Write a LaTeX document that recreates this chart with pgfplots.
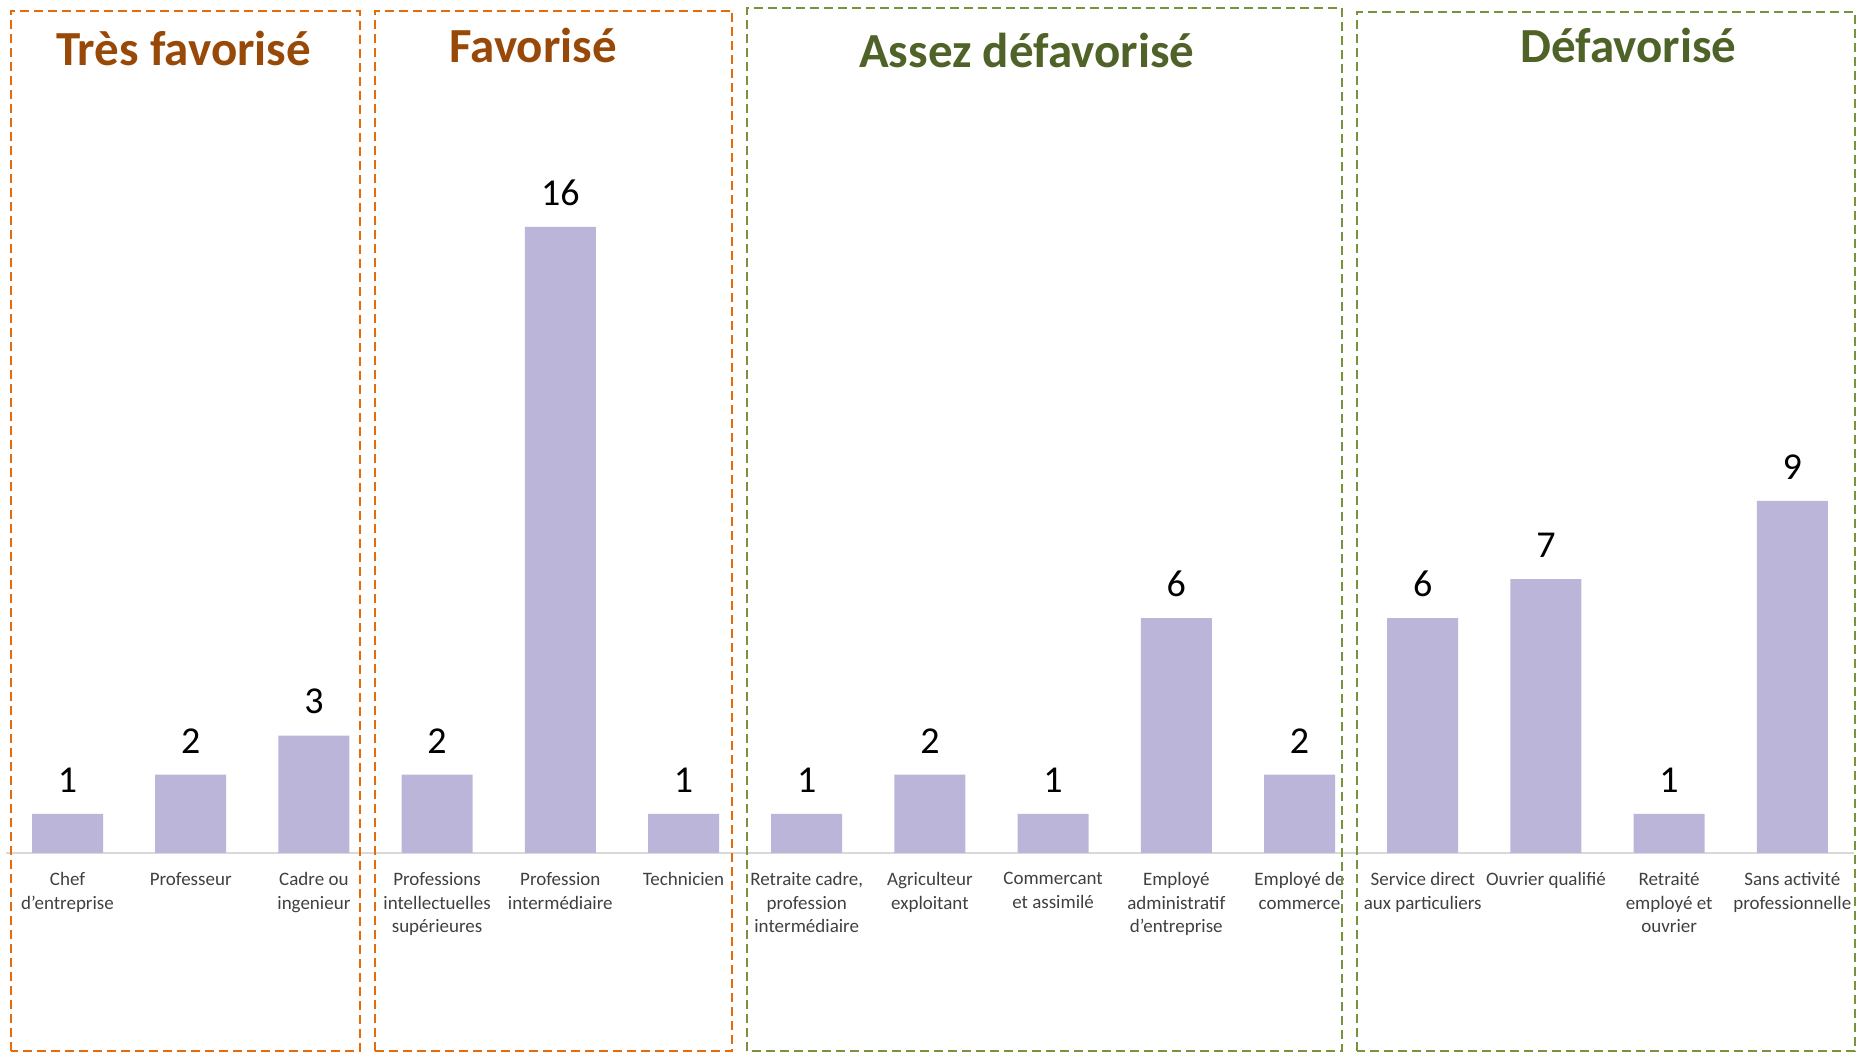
\documentclass[border=0pt]{standalone}
\usepackage{pgfplots}
\pgfplotsset{compat=1.18}
\usepackage{fontspec}
\setmainfont{Carlito}
\definecolor{barc}{RGB}{187,181,217}
\definecolor{orbox}{HTML}{E46C0A}
\definecolor{grbox}{HTML}{77933C}
\definecolor{ortxt}{HTML}{984807}
\definecolor{grtxt}{HTML}{4F6228}
\definecolor{lbl}{HTML}{404040}
\begin{document}
\begin{tikzpicture}
\useasboundingbox (0,0) rectangle (928.5pt,526.5pt);
\begin{axis}[
  at={(2.95pt,100pt)}, anchor=south west,
  scale only axis, width=924pt, height=426.5pt,
  xmin=-0.5, xmax=14.5, ymin=0, ymax=21.8,
  hide y axis,
  axis x line*=bottom,
  x axis line style={-, draw=black!15, line width=1pt},
  xtick={0,...,14},
  major tick length=0pt,
  xticklabels={{Chef\\d’entreprise},{Professeur},{Cadre ou\\ingenieur},{Professions\\intellectuelles\\supérieures},{Profession\\intermédiaire},{Technicien},{Retraite cadre,\\profession\\intermédiaire},{Agriculteur\\exploitant},{Commercant\\et assimilé},{Employé\\administratif\\d’entreprise},{Employé de\\commerce},{Service direct\\aux particuliers},{Ouvrier qualifié},{Retraité\\employé et\\ouvrier},{Sans activité\\professionnelle}},
  xticklabel style={align=center, font=\fontsize{9.5}{11.8}\selectfont, text=lbl, inner sep=0pt, yshift=-9.5pt},
  ybar, bar width=35.5pt,
  /pgf/number format/assume math mode=true,
  nodes near coords,
  every node near coord/.append style={anchor=center, yshift=17pt, font=\fontsize{19}{21}\selectfont, text=black},
]
\addplot[fill=barc, draw=none] coordinates {
(0,1) (1,2) (2,3) (3,2) (4,16) (5,1) (6,1) (7,2) (8,1) (9,6) (10,2) (11,6) (12,7) (13,1) (14,9)};
\end{axis}
\begin{scope}[line width=1pt, dash pattern=on 4.5pt off 2.5pt]
\draw[orbox] (5.35pt,1pt) rectangle (180pt,521.2pt);
\draw[orbox] (187.5pt,1pt) rectangle (366pt,521.2pt);
\draw[grbox] (373.5pt,1pt) rectangle (671pt,522.4pt);
\draw[grbox] (678.5pt,1pt) rectangle (927.5pt,520.6pt);
\end{scope}
\begin{scope}[font=\fontsize{24.5}{26}\selectfont\bfseries]
\node[text=ortxt, anchor=base] at (91.8pt,493.5pt) {Très favorisé};
\node[text=ortxt, anchor=base] at (266.5pt,495.1pt) {Favorisé};
\node[text=grtxt, anchor=base] at (513.4pt,492.7pt) {Assez défavorisé};
\node[text=grtxt, anchor=base] at (814.2pt,495pt) {Défavorisé};
\end{scope}
\end{tikzpicture}
\end{document}
